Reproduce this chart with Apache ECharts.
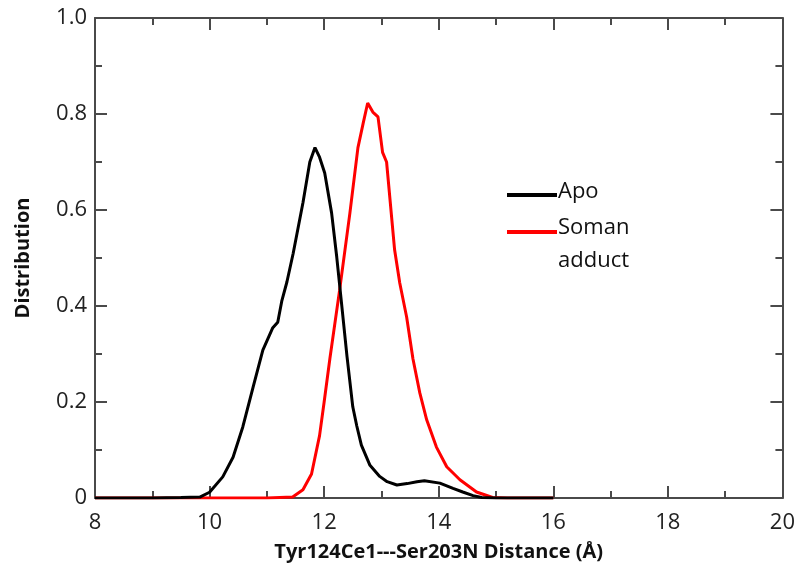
<!DOCTYPE html>
<html lang="en">
<head>
    <meta charset="UTF-8">
    <title>Distance distribution</title>
    <script src="https://cdn.jsdelivr.net/npm/echarts@6/dist/echarts.min.js"></script>
    <style>
        body { margin: 0; background: #fff; }
    </style>
</head>
<body>
    <div id="ec" style="width:798px;height:578px"></div>
</body>
<script>
    // Apo distribution
    var apoX = [8.0, 9.0, 9.5, 9.83, 10.0, 10.23, 10.41, 10.58, 10.76, 10.93, 11.1, 11.19, 11.26,
        11.35, 11.46, 11.63, 11.75, 11.84, 11.92, 12.01, 12.13, 12.22, 12.31, 12.40, 12.5, 12.57,
        12.65, 12.8, 12.97, 13.1, 13.27, 13.45, 13.62, 13.75, 14.02, 14.25, 14.42, 14.6, 14.75, 15.0, 16.0]
    var apoY = [0, 0, 0.001, 0.002, 0.012, 0.044, 0.085, 0.148, 0.231, 0.308, 0.354, 0.366, 0.41,
        0.45, 0.51, 0.615, 0.70, 0.73, 0.71, 0.677, 0.594, 0.502, 0.398, 0.294, 0.19, 0.15,
        0.11, 0.068, 0.045, 0.034, 0.027, 0.03, 0.034, 0.036, 0.031, 0.02, 0.0125, 0.005, 0.001, 0, 0]

    // Soman adduct distribution
    var somanX = [8.0, 11.0, 11.45, 11.63, 11.78, 11.92, 12.0, 12.1, 12.27, 12.45, 12.59, 12.68, 12.76,
        12.85, 12.94, 13.02, 13.09, 13.23, 13.32, 13.44, 13.55, 13.67, 13.79, 13.96, 14.14, 14.37,
        14.66, 14.94, 15.2, 16.0]
    var somanY = [0, 0, 0.002, 0.017, 0.05, 0.13, 0.2, 0.29, 0.433, 0.594, 0.73, 0.78, 0.823,
        0.804, 0.794, 0.72, 0.70, 0.517, 0.448, 0.377, 0.29, 0.219, 0.163, 0.106, 0.065, 0.038,
        0.0125, 0.001, 0, 0]

    var seriesNames = ['Apo', 'Soman adduct']
    var xTitle = 'Tyr124Ce1---Ser203N Distance (Å)'
    var yTitle = 'Distribution'

    function pairs(xs, ys) {
        return xs.map(function (x, i) { return [x, ys[i]] })
    }

    var axisColor = '#4a4a4a'
    var font = 'Open Sans'

    var mychart = echarts.init(document.getElementById('ec'))

    function frameAxis(extra) {
        return Object.assign({
            axisLine: { show: true, onZero: false, lineStyle: { color: axisColor, width: 2 } },
            axisTick: { show: true, inside: true, length: 12, lineStyle: { color: axisColor, width: 2 } },
            minorTick: { show: true, splitNumber: 2, length: 7, lineStyle: { color: axisColor, width: 2 } },
            splitLine: { show: false }
        }, extra)
    }

    var options = {
        animation: false,
        backgroundColor: '#fff',
        grid: { left: 95, right: 15, top: 18, bottom: 80 },
        xAxis: [
            frameAxis({
                type: 'value', min: 8, max: 20, interval: 2, position: 'bottom',
                name: xTitle, nameLocation: 'middle', nameGap: 44,
                nameTextStyle: { fontFamily: font, fontWeight: 'bold', fontSize: 20, color: '#111' },
                axisLabel: { margin: 14, fontFamily: font, fontSize: 22, color: '#222' }
            }),
            frameAxis({
                type: 'value', min: 8, max: 20, interval: 2, position: 'top',
                axisLabel: { show: false }
            })
        ],
        yAxis: [
            frameAxis({
                type: 'value', min: 0, max: 1, interval: 0.2, position: 'left',
                name: yTitle, nameLocation: 'middle', nameGap: 62, nameRotate: 90,
                nameTextStyle: { fontFamily: font, fontWeight: 'bold', fontSize: 20, color: '#111' },
                axisLabel: {
                    margin: 8, fontFamily: font, fontSize: 22, color: '#222',
                    formatter: function (v) { return v === 0 ? '0' : v.toFixed(1) }
                }
            }),
            frameAxis({
                type: 'value', min: 0, max: 1, interval: 0.2, position: 'right',
                axisLabel: { show: false }
            })
        ],
        series: [
            {
                name: seriesNames[0], type: 'line', showSymbol: false,
                lineStyle: { color: '#000', width: 3 },
                data: pairs(apoX, apoY), z: 3
            },
            {
                name: seriesNames[1], type: 'line', showSymbol: false,
                lineStyle: { color: '#ff0000', width: 3 },
                data: pairs(somanX, somanY), z: 2
            }
        ],
        // legend drawn by hand so the red line sits on the first text line
        graphic: [
            { type: 'line', shape: { x1: 507, y1: 195, x2: 557, y2: 195 }, style: { stroke: '#000', lineWidth: 4 } },
            { type: 'text', left: 558, top: 181, style: { text: 'Apo', font: '22px "Open Sans"', fill: '#111' } },
            { type: 'line', shape: { x1: 507, y1: 232, x2: 557, y2: 232 }, style: { stroke: '#ff0000', lineWidth: 4 } },
            { type: 'text', left: 558, top: 211, style: { text: 'Soman\nadduct', font: '22px "Open Sans"', lineHeight: 33, fill: '#111' } }
        ]
    }

    mychart.setOption(options)
</script>
</html>
